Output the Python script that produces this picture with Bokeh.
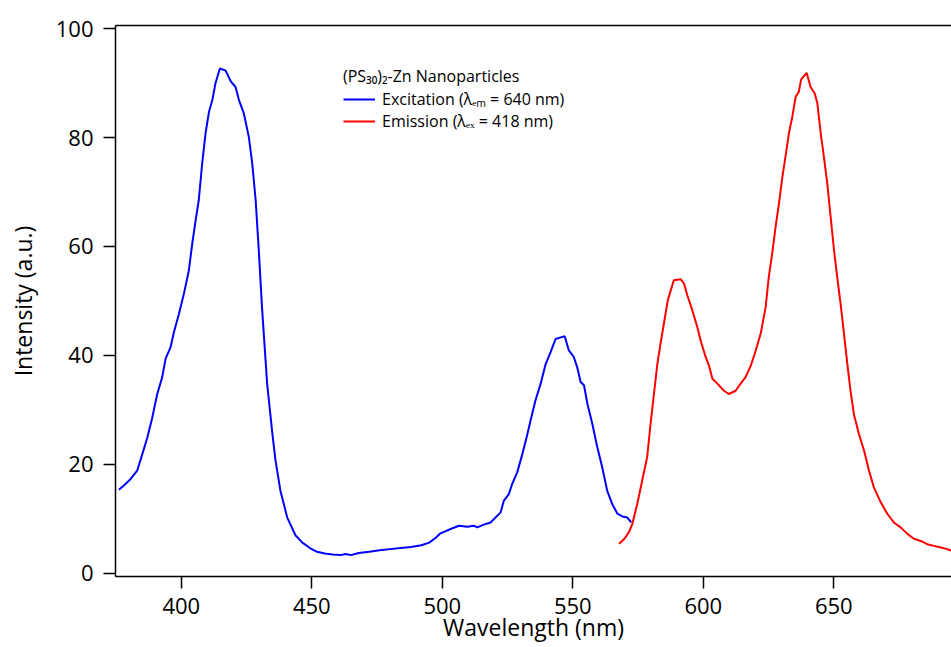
from bokeh.plotting import figure
from bokeh.models import (Range1d, LinearAxis, FixedTicker, Legend, LegendItem)
from bokeh.embed import file_html
from bokeh.resources import INLINE

# Excitation spectrum (lambda_em = 640 nm)
wl_ex = [376.1, 378.0, 380.6, 383.1, 385.1, 387.0, 388.9, 390.8, 392.7, 394.0,
         395.9, 397.2, 399.1, 401.0, 402.9, 404.2, 405.5, 406.7, 408.0, 409.3,
         410.6, 411.9, 413.1, 414.8, 417.0, 418.9, 420.8, 422.1, 424.0, 425.9,
         427.2, 428.5, 429.7, 431.0, 432.9, 434.9, 436.1, 438.0, 440.6, 443.8,
         446.4, 449.3, 452.0, 455.0, 458.0, 461.0, 463.0, 465.0, 468.0, 472.0,
         476.0, 480.0, 484.0, 488.0, 492.0, 495.0, 497.5, 499.3, 503.2, 506.4,
         509.6, 512.1, 513.4, 515.9, 518.5, 520.4, 522.3, 523.6, 525.5, 526.8,
         528.7, 530.7, 532.3, 533.8, 535.7, 537.7, 539.6, 541.5, 543.4, 545.4,
         546.9, 548.5, 550.4, 551.7, 553.0, 554.3, 555.6, 557.5, 559.4, 561.3,
         563.2, 565.1, 567.1, 569.0, 570.9, 572.4]
int_ex = [15.3, 16.1, 17.3, 18.8, 21.9, 24.9, 28.6, 32.9, 36.0, 39.4,
          41.5, 44.3, 47.6, 51.3, 55.6, 60.5, 64.8, 68.5, 75.2, 80.8,
          84.7, 86.9, 90.0, 92.7, 92.3, 90.4, 89.3, 86.9, 84.4, 80.1,
          75.2, 68.5, 59.3, 48.3, 34.8, 25.6, 20.7, 15.1, 10.2, 6.9,
          5.6, 4.6, 3.9, 3.6, 3.4, 3.3, 3.5, 3.3, 3.7, 3.9,
          4.2, 4.4, 4.6, 4.8, 5.1, 5.6, 6.5, 7.3, 8.1, 8.7,
          8.5, 8.7, 8.4, 8.9, 9.3, 10.2, 11.1, 13.3, 14.5, 16.4,
          18.5, 21.9, 24.9, 28.0, 31.7, 34.8, 38.4, 40.6, 43.0, 43.3,
          43.5, 40.9, 39.7, 37.8, 35.1, 34.5, 31.1, 27.4, 23.1, 19.4,
          15.1, 12.7, 10.9, 10.4, 10.2, 9.3]

# Emission spectrum (lambda_ex = 418 nm)
wl_em = [567.7, 569.6, 571.5, 572.8, 574.7, 576.6, 578.5, 579.8, 581.1, 582.4,
         583.6, 584.9, 586.4, 588.7, 591.3, 592.6, 593.9, 595.8, 597.7, 599.0,
         600.9, 602.2, 603.5, 605.4, 607.9, 609.8, 612.4, 614.3, 616.2, 618.2,
         620.1, 622.0, 623.9, 625.1, 626.4, 627.7, 629.0, 630.3, 631.5, 632.8,
         634.1, 635.4, 636.6, 637.5, 639.6, 641.1, 642.7, 643.7, 645.0, 646.2,
         647.5, 648.8, 650.1, 651.3, 652.6, 653.9, 655.2, 656.4, 657.7, 659.6,
         661.6, 663.5, 665.4, 668.0, 670.5, 673.0, 675.6, 678.2, 680.7, 683.3,
         685.8, 688.4, 691.0, 693.5, 695.1]
int_em = [5.4, 6.2, 7.5, 9.0, 12.7, 17.0, 21.3, 27.4, 32.9, 38.4,
          42.1, 45.8, 50.1, 53.8, 54.0, 53.2, 51.0, 48.3, 45.2, 42.7,
          39.7, 38.1, 35.7, 34.8, 33.5, 32.9, 33.5, 34.8, 36.0, 38.1,
          40.9, 44.0, 48.9, 54.4, 58.7, 63.6, 67.9, 72.8, 76.5, 80.8,
          83.8, 87.5, 88.4, 90.7, 91.9, 89.3, 88.1, 86.3, 80.8, 76.5,
          71.6, 65.4, 59.3, 54.4, 49.5, 44.0, 38.4, 33.5, 29.2, 25.6,
          22.5, 18.8, 15.7, 13.0, 10.9, 9.3, 8.4, 7.2, 6.3, 5.9,
          5.3, 5.0, 4.7, 4.4, 4.1]

assert len(wl_ex) == len(int_ex) and len(wl_em) == len(int_em)

x_ticks = [400, 450, 500, 550, 600, 650]
y_ticks = [0, 20, 40, 60, 80, 100]

legend_title = "(PS\u2083\u2080)\u2082-Zn Nanoparticles"
label_ex = "Excitation (\u03bb\u2091\u2098 = 640 nm)"
label_em = "Emission (\u03bb\u2091\u2093 = 418 nm)"
x_title = "Wavelength (nm)"
y_title = "Intensity (a.u.)"

FONT = "Open Sans"

p = figure(width=951, height=647, output_backend="svg", toolbar_location=None,
           x_range=Range1d(374.8, 695.1), y_range=Range1d(-0.63, 100.6),
           min_border_left=115, min_border_right=0, min_border_top=25,
           min_border_bottom=71)
p.outline_line_color = None
p.grid.visible = False
p.background_fill_color = "white"
p.border_fill_color = "white"

r_ex = p.line(wl_ex, int_ex, line_color="#0000ff", line_width=2)
r_em = p.line(wl_em, int_em, line_color="#ff0000", line_width=2)

for ax in (p.xaxis[0], p.yaxis[0]):
    ax.axis_line_width = 1.5
    ax.axis_line_color = "black"
    ax.major_tick_line_width = 1.5
    ax.major_tick_line_color = "black"
    ax.major_tick_in = 0
    ax.major_tick_out = 12
    ax.minor_tick_line_color = None
    ax.major_label_text_font = FONT
    ax.major_label_text_font_size = "22px"
    ax.major_label_text_color = "black"
    ax.axis_label_text_font = FONT
    ax.axis_label_text_font_size = "23px"
    ax.axis_label_text_font_style = "normal"
    ax.axis_label_text_color = "black"

p.xaxis[0].ticker = FixedTicker(ticks=x_ticks)
p.yaxis[0].ticker = FixedTicker(ticks=y_ticks)
p.xaxis[0].axis_label = x_title
p.yaxis[0].axis_label = y_title
p.xaxis[0].major_label_standoff = 9
p.xaxis[0].axis_label_standoff = -6
p.yaxis[0].major_label_standoff = 10
p.yaxis[0].axis_label_standoff = 14

top = LinearAxis(ticker=FixedTicker(ticks=[]), major_tick_out=0, major_tick_in=0,
                 minor_tick_line_color=None, major_label_text_font_size="0px",
                 axis_line_width=1.5, axis_line_color="black")
p.add_layout(top, "above")

legend = Legend(items=[LegendItem(label=label_ex, renderers=[r_ex]),
                       LegendItem(label=label_em, renderers=[r_em])],
                location=(228, 444), title=legend_title,
                title_text_font=FONT, title_text_font_size="16px",
                title_text_font_style="normal", title_text_color="black",
                title_standoff=1,
                label_text_font=FONT, label_text_font_size="16px",
                label_text_color="black",
                glyph_width=32, glyph_height=20, label_standoff=7,
                spacing=0, padding=0, margin=0,
                border_line_color=None, background_fill_alpha=0)
p.add_layout(legend, "center")

open("out.html", "w").write(file_html(p, INLINE))
